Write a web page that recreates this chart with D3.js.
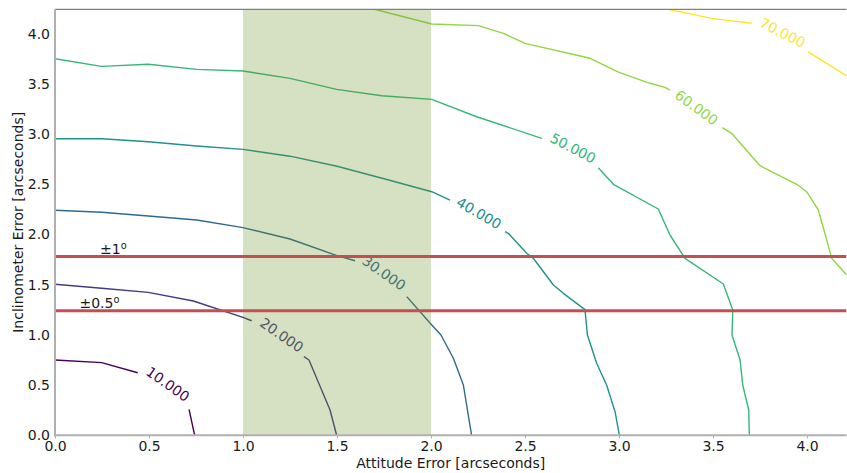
<!DOCTYPE html>
<html>
<head>
<meta charset="utf-8">
<script src="https://cdn.jsdelivr.net/npm/d3@7"></script>
<style>
  html, body { margin: 0; padding: 0; background: #fff; }
  svg { display: block; font-family: "DejaVu Sans", sans-serif; }
</style>
</head>
<body>
<svg id="chart" width="847" height="473"></svg>
<script>
// ---------------- data ----------------
const xTicks = [0, 0.5, 1.0, 1.5, 2.0, 2.5, 3.0, 3.5, 4.0];
const yTicks = [0, 0.5, 1.0, 1.5, 2.0, 2.5, 3.0, 3.5, 4.0];
const levels = [10, 20, 30, 40, 50, 60, 70];

// each contour: list of segments (broken where the inline label sits)
const contour10 = [
  [[0, 0.75], [0.248, 0.724], [0.44, 0.623]],
  [[0.713, 0.259], [0.743, 0]]
];
const contour20 = [
  [[0, 1.504], [0.248, 1.464], [0.496, 1.424], [0.736, 1.338], [1.0, 1.175], [1.046, 1.141]],
  [[1.324, 0.783], [1.351, 0.75], [1.463, 0.252], [1.498, 0]]
];
const contour30 = [
  [[0, 2.241], [0.248, 2.221], [0.496, 2.184], [0.754, 2.144], [1.0, 2.068], [1.25, 1.955], [1.5, 1.79], [1.596, 1.739]],
  [[1.871, 1.381], [2.004, 1.099], [2.053, 0.999], [2.119, 0.767], [2.172, 0.501], [2.216, 0]]
];
const contour40 = [
  [[0, 2.954], [0.248, 2.954], [0.496, 2.924], [0.754, 2.881], [1.0, 2.848], [1.25, 2.78], [1.5, 2.68], [1.75, 2.555], [2.004, 2.426], [2.101, 2.343]],
  [[2.394, 2.028], [2.411, 2.012], [2.509, 1.813], [2.544, 1.763], [2.651, 1.497], [2.704, 1.414], [2.819, 1.252],
   [2.832, 0.999], [2.881, 0.717], [2.934, 0.501], [2.979, 0.235], [3.002, 0]]
];
const contour50 = [
  [[0, 3.751], [0.248, 3.675], [0.496, 3.695], [0.754, 3.645], [1.0, 3.628], [1.25, 3.555], [1.498, 3.446], [1.738, 3.382],
   [2.004, 3.346], [2.243, 3.173], [2.589, 2.958]],
  [[2.89, 2.665], [2.97, 2.5], [3.209, 2.254], [3.271, 1.995], [3.351, 1.763], [3.555, 1.507], [3.605, 1.248],
   [3.601, 0.999], [3.644, 0.75], [3.658, 0.501], [3.69, 0.252], [3.693, 0]]
];
const contour60 = [
  [[1.70, 4.243], [2.004, 4.097], [2.252, 4.08], [2.385, 4.004], [2.5, 3.904], [2.846, 3.755], [3.0, 3.615],
   [3.165, 3.506], [3.245, 3.466], [3.271, 3.439]],
  [[3.549, 3.064], [3.599, 3.008], [3.75, 2.685], [3.945, 2.5], [3.998, 2.426], [4.06, 2.244], [4.105, 1.945],
   [4.131, 1.763], [4.211, 1.597]]
];
const contour70 = [
  [[3.262, 4.243], [3.493, 4.153], [3.706, 4.104]],
  [[4.004, 3.821], [4.211, 3.579]]
];
const contours = [contour10, contour20, contour30, contour40, contour50, contour60, contour70];
// inline label anchor points (data coordinates)
const labelPoints = [[0.601, 0.511], [1.206, 0.999], [1.75, 1.617], [2.255, 2.214], [2.755, 2.861], [3.413, 3.265], [3.87, 4.012]];

const spanRange = [1.0, 2.0];
const limitLines = [1.78, 1.24];
const limitLabels = ["±1", "±0.5"];
const limitLabelX = [0.24, 0.13];

// ---------------- layout ----------------
const svg = d3.select("#chart");
const mL = 55, mR = 846.5, mT = 9.3, mB = 435.3;
const x = d3.scaleLinear().domain([0, 4.21]).range([mL, mR]);
const y = d3.scaleLinear().domain([0, 4.243]).range([mB, mT]);
const color = d3.scaleSequential(d3.interpolateViridis).domain([10, 70]);
const fs = 14;

svg.append("defs").append("clipPath").attr("id", "plotclip")
  .append("rect").attr("x", mL).attr("y", mT).attr("width", mR - mL).attr("height", mB - mT);

const plot = svg.append("g").attr("clip-path", "url(#plotclip)");
const line = d3.line().x(d => x(d[0])).y(d => y(d[1]));

contours.forEach((segs, i) => {
  const c = color(levels[i]);
  segs.forEach(seg => {
    plot.append("path").attr("d", line(seg)).attr("fill", "none")
      .attr("stroke", c).attr("stroke-width", 1.4).attr("stroke-linejoin", "round");
  });
  const a = segs[0][segs[0].length - 1], b = segs[1][0];
  const ang = Math.atan2(y(b[1]) - y(a[1]), x(b[0]) - x(a[0])) * 180 / Math.PI;
  const p = labelPoints[i];
  plot.append("text")
    .attr("transform", `translate(${x(p[0])},${y(p[1])}) rotate(${ang})`)
    .attr("text-anchor", "middle").attr("dy", "0.36em")
    .attr("font-size", fs).attr("fill", c)
    .text(d3.format(".3f")(levels[i]));
});

// shaded span (drawn over contours)
plot.append("rect")
  .attr("x", x(spanRange[0])).attr("width", x(spanRange[1]) - x(spanRange[0]))
  .attr("y", mT).attr("height", mB - mT)
  .attr("fill", "#6b8e23").attr("fill-opacity", 0.28);

// limit lines
limitLines.forEach((v, i) => {
  plot.append("line").attr("x1", mL).attr("x2", mR)
    .attr("y1", y(v)).attr("y2", y(v))
    .attr("stroke", "#c44e52").attr("stroke-width", 3);
  const t = svg.append("text").attr("x", x(limitLabelX[i])).attr("y", y(v) - 3)
    .attr("font-size", fs).attr("fill", "#1a1a1a");
  t.append("tspan").text(limitLabels[i]);
  t.append("tspan").attr("font-size", fs * 0.7).attr("dy", -5).text("o");
});

// spines
svg.append("line").attr("x1", mL).attr("x2", mR).attr("y1", mT).attr("y2", mT)
  .attr("stroke", "#808080").attr("stroke-width", 1.2);
svg.append("line").attr("x1", mL).attr("x2", mL).attr("y1", mT).attr("y2", mB + 1)
  .attr("stroke", "#b0b0b0").attr("stroke-width", 2);
svg.append("line").attr("x1", mL - 1).attr("x2", mR).attr("y1", mB).attr("y2", mB)
  .attr("stroke", "#b0b0b0").attr("stroke-width", 2);

// axes
const xAxis = svg.append("g").attr("transform", `translate(0,${mB})`)
  .call(d3.axisBottom(x).tickValues(xTicks).tickFormat(d3.format(".1f")).tickSize(3).tickPadding(3));
const yAxis = svg.append("g").attr("transform", `translate(${mL},0)`)
  .call(d3.axisLeft(y).tickValues(yTicks).tickFormat(d3.format(".1f")).tickSize(0).tickPadding(5));
[xAxis, yAxis].forEach(g => {
  g.select(".domain").remove();
  g.selectAll(".tick line").attr("stroke", "#b0b0b0");
  g.selectAll("text").attr("font-size", fs).attr("fill", "#1a1a1a").attr("font-family", "DejaVu Sans");
});

// axis titles
svg.append("text").attr("x", (mL + mR) / 2).attr("y", 468)
  .attr("text-anchor", "middle").attr("font-size", fs).attr("fill", "#1a1a1a")
  .text("Attitude Error [arcseconds]");
svg.append("text").attr("transform", `translate(22.5,${(mT + mB) / 2}) rotate(-90)`)
  .attr("text-anchor", "middle").attr("font-size", fs).attr("fill", "#1a1a1a")
  .text("Inclinometer Error [arcseconds]");
</script>
</body>
</html>
